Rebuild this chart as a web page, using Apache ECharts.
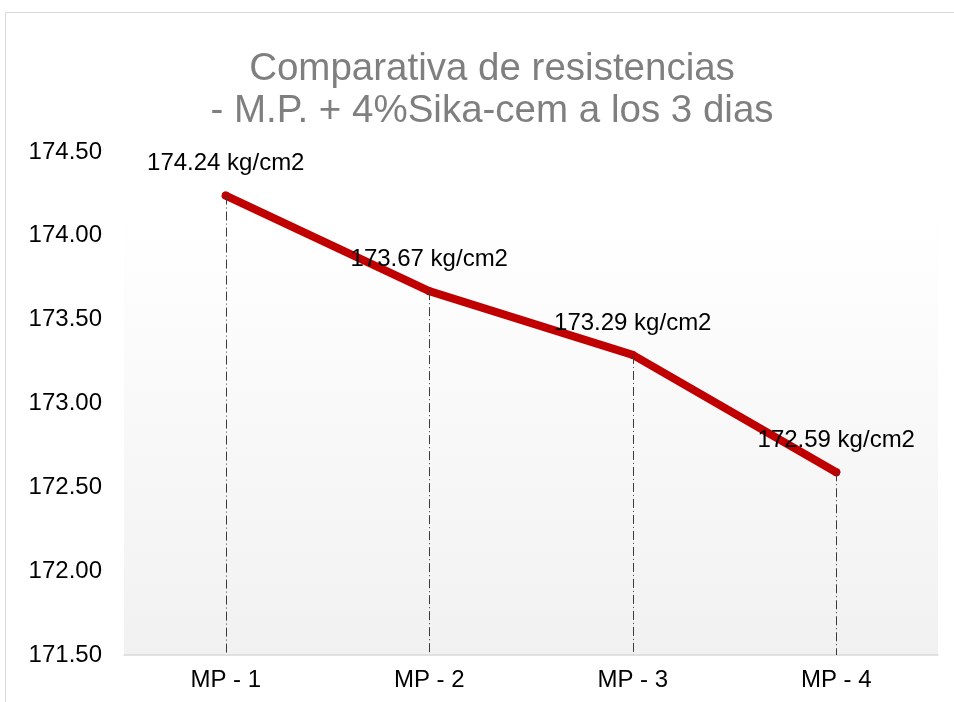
<!DOCTYPE html>
<html>
<head>
<meta charset="utf-8">
<script src="https://cdn.jsdelivr.net/npm/echarts@6/dist/echarts.min.js"></script>
<style>
  html, body { margin: 0; padding: 0; background: #fff; }
  #chart { width: 954px; height: 702px; }
</style>
</head>
<body>
<div id="chart"></div>
<script>
// datos del grafico
const categorias = ['MP - 1', 'MP - 2', 'MP - 3', 'MP - 4']
const resistencias = [174.24, 173.67, 173.29, 172.59]
const ejeMin = 171.5
const ejeMax = 174.5
const ejeIntervalo = 0.5

const chart = echarts.init(document.getElementById('chart'))

// lineas verticales punteadas desde cada punto hasta el eje
const lineasCaida = resistencias.map((v, i) => [
  { xAxis: i, yAxis: v },
  { xAxis: i, yAxis: ejeMin }
])

const fuente = 'Liberation Sans, Arial, sans-serif'

const option = {
  animation: false,
  textStyle: { fontFamily: fuente },
  graphic: [
    {
      type: 'rect',
      shape: { x: 5.5, y: 12.5, width: 980, height: 720 },
      style: { fill: 'none', stroke: '#d9d9d9', lineWidth: 1 },
      silent: true
    }
  ],
  title: {
    text: 'Comparativa de resistencias\n- M.P. + 4%Sika-cem a los 3 dias',
    left: 487,
    top: 43,
    textAlign: 'center',
    textStyle: {
      fontSize: 38.5,
      fontWeight: 'normal',
      color: '#7f7f7f',
      lineHeight: 42,
      fontFamily: fuente
    }
  },
  grid: {
    left: 124,
    right: 16,
    top: 152,
    bottom: 47,
    show: true,
    borderWidth: 0,
    backgroundColor: new echarts.graphic.LinearGradient(0, 0, 0, 1, [
      { offset: 0, color: '#ffffff' },
      { offset: 0.12, color: '#ffffff' },
      { offset: 1, color: '#f1f1f1' }
    ])
  },
  xAxis: {
    type: 'category',
    data: categorias,
    boundaryGap: true,
    axisLine: { lineStyle: { color: '#d9d9d9', width: 1.5 } },
    axisTick: { show: false },
    axisLabel: { color: '#000', fontSize: 24, margin: 13 },
    splitLine: { show: false }
  },
  yAxis: {
    type: 'value',
    min: ejeMin,
    max: ejeMax,
    interval: ejeIntervalo,
    axisLine: { show: false },
    axisTick: { show: false },
    splitLine: { show: false },
    axisLabel: {
      color: '#000',
      fontSize: 24,
      margin: 22,
      formatter: (v) => v.toFixed(2)
    }
  },
  series: [
    {
      type: 'line',
      data: resistencias,
      symbol: 'circle',
      symbolSize: 8,
      showSymbol: true,
      itemStyle: { color: '#c00000' },
      lineStyle: { color: '#c00000', width: 8, cap: 'round', join: 'round' },
      label: {
        show: true,
        position: 'top',
        distance: 16,
        color: '#000',
        fontSize: 24,
        formatter: (p) => p.value.toFixed(2) + ' kg/cm2'
      },
      markLine: {
        silent: true,
        symbol: 'none',
        label: { show: false },
        lineStyle: { color: '#3a3a3a', width: 1, type: [9, 3, 1, 3] },
        data: lineasCaida
      },
      z: 3
    }
  ]
}

chart.setOption(option)
</script>
</body>
</html>
